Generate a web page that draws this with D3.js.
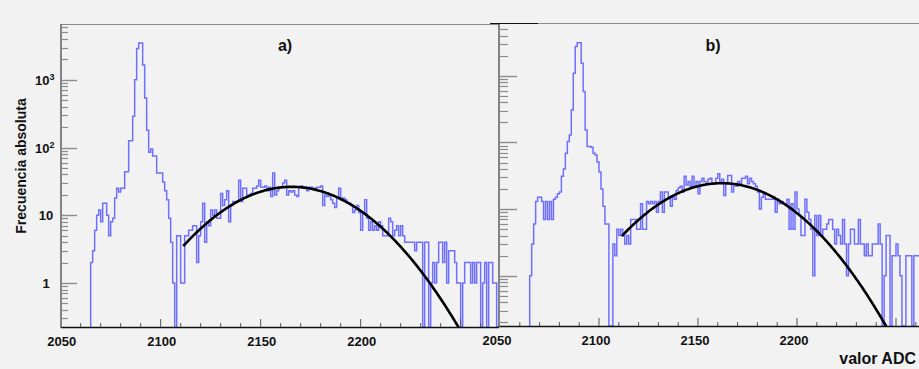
<!DOCTYPE html>
<html lang="en">
<head>
<meta charset="utf-8">
<title>Espectro ADC</title>
<script src="https://cdn.jsdelivr.net/npm/d3@7"></script>
<style>
	body { margin: 0; background: #f2f2f2; }
	svg { display: block; font-family: "Liberation Sans", Arial, sans-serif; }
</style>
</head>
<body>
<script>
// one bin = 1 ADC unit, counts start at firstBin
var firstBinA = 2065;
var countsA = [2, 3, 6, 10, 12, 8, 15, 15, 10, 5,
	8, 9, 18, 25, 22, 25, 25, 44, 44, 126,
	126, 290, 1000, 2900, 3500, 3500, 1650, 540, 180, 85,
	95, 75, 75, 42, 42, 42, 31, 23, 17, 9,
	4, 1, 0, 5, 5, 1, 1, 5, 5, 6,
	6, 7, 7, 2, 5, 8, 15, 4, 8, 7,
	12, 10, 12, 9, 9, 21, 14, 17, 23, 8,
	14, 16, 16, 16, 33, 16, 25, 25, 20, 20,
	21, 25, 25, 27, 33, 26, 26, 27, 23, 26,
	19, 42, 20, 23, 26, 26, 30, 33, 20, 23,
	22, 23, 20, 19, 26, 27, 25, 26, 23, 26,
	26, 25, 25, 26, 26, 27, 14, 20, 19, 20,
	17, 15, 13, 18, 25, 17, 18, 17, 15, 15,
	14, 11, 12, 14, 11, 6, 11, 17, 9, 6,
	8, 6, 7, 6, 8, 7, 5, 5, 5, 9,
	8, 5, 6, 7, 5, 7, 5, 4, 4, 4,
	4, 4, 3, 4, 4, 4, 0, 4, 4, 0,
	1, 2, 1, 2, 4, 4, 2, 4, 1, 3,
	3, 3, 2, 1, 1, 0, 1, 2, 2, 2,
	1, 2, 1, 2, 2, 0, 1, 2, 0, 2,
	2, 1, 1, 0];

var firstBinB = 2065;
var countsB = [1, 3, 6, 13, 15, 15, 13, 7, 13, 7,
	13, 7, 14, 15, 17, 18, 31, 40, 69, 103,
	130, 307, 1090, 2750, 3150, 3150, 1550, 580, 154, 87,
	87, 85, 69, 65, 51, 36, 20, 11, 6, 6,
	0, 0, 3, 2, 5, 4, 5, 4, 3, 4,
	3, 7, 7, 7, 5, 5, 12, 5, 5, 13,
	12, 13, 12, 13, 9, 13, 18, 9, 18, 18,
	15, 11, 15, 14, 19, 21, 22, 18, 31, 23,
	26, 22, 31, 22, 26, 17, 26, 29, 26, 24,
	28, 29, 24, 24, 29, 34, 26, 28, 16, 24,
	32, 32, 18, 24, 22, 26, 24, 29, 29, 31,
	24, 29, 26, 24, 22, 18, 10, 15, 17, 14,
	14, 14, 14, 15, 9, 14, 12, 13, 12, 12,
	14, 5, 12, 5, 18, 10, 8, 4, 4, 14,
	9, 7, 5, 1, 8, 4, 8, 4, 5, 5,
	6, 7, 7, 5, 3, 5, 4, 3, 7, 3,
	1, 3, 5, 5, 3, 3, 7, 3, 3, 2,
	3, 2, 2, 3, 3, 3, 6, 3, 0, 1,
	4, 4, 0, 2, 2, 3, 2, 1, 0, 0,
	2, 2, 2, 0, 2, 2, 2, 0];

// gaussian fits [panel a, panel b]
var fitAmp = [26.3, 24.5];
var fitMean = [2165.5, 2162.0];
var fitSigma = [27.0, 26.4];
var fitStart = [2111.3, 2111.5];

var xTickLabels = [2050, 2100, 2150, 2200];
var yTickValues = [1, 10, 100, 1000];
var yTickExp = [0, 1, 2, 3];
var panelNames = ["a)", "b)"];

var w = 919;
var h = 369;

var svg = d3.select("body")
	.append("svg")
	.attr("width", w)
	.attr("height", h);

var defs = svg.append("defs");

var panels = [
	{ name: panelNames[0], first: firstBinA, counts: countsA, fit: 0,
	  xr: [60.67, 500.67], top: 25, bottom: 327, ymin: 0.224, ymax: 6450,
	  clipL: 61, clipR: 499, major: 16, minor: 7, nameX: 285, yLabels: true },
	{ name: panelNames[1], first: firstBinB, counts: countsB, fit: 1,
	  xr: [500, 935.6], top: 24, bottom: 326, ymin: 0.176, ymax: 6000,
	  clipL: 499, clipR: 919, major: 18, minor: 9, nameX: 713, yLabels: false }
];

panels.forEach(function(p, k) {
	var x = d3.scaleLinear().domain([2050, 2270]).range(p.xr);
	var y = d3.scaleLog().domain([p.ymin, p.ymax]).range([p.bottom, p.top]);
	var g = svg.append("g");

	g.append("rect")
		.attr("x", p.clipL).attr("y", p.top)
		.attr("width", p.clipR - p.clipL).attr("height", p.bottom - p.top)
		.attr("fill", "#f2f2f2");

	defs.append("clipPath").attr("id", "clip" + k)
		.append("rect")
		.attr("x", p.clipL).attr("y", p.top)
		.attr("width", p.clipR - p.clipL).attr("height", p.bottom - p.top);

	// histogram outline
	var pts = [[p.first, 0]];
	p.counts.forEach(function(c, i) { pts.push([p.first + i, c]); });
	pts.push([p.first + p.counts.length, p.counts[p.counts.length - 1]]);

	var step = d3.line()
		.x(function(d) { return x(d[0]); })
		.y(function(d) { return d[1] > 0 ? y(d[1]) : p.bottom; })
		.curve(d3.curveStepAfter);

	g.append("path")
		.datum(pts)
		.attr("clip-path", "url(#clip" + k + ")")
		.attr("d", step)
		.attr("fill", "none")
		.attr("stroke", "#7070ff")
		.attr("stroke-width", 1.5);

	// fit
	var fitPts = d3.range(fitStart[p.fit], 2270, 0.5).map(function(v) {
		var z = (v - fitMean[p.fit]) / fitSigma[p.fit];
		return [v, fitAmp[p.fit] * Math.exp(-0.5 * z * z)];
	});
	g.append("path")
		.datum(fitPts)
		.attr("clip-path", "url(#clip" + k + ")")
		.attr("d", d3.line()
			.x(function(d) { return x(d[0]); })
			.y(function(d) { return y(Math.max(d[1], p.ymin / 3)); }))
		.attr("fill", "none")
		.attr("stroke", "#000")
		.attr("stroke-width", 2.6);

	// frame lines
	g.append("line")
		.attr("x1", p.clipL).attr("x2", p.clipR)
		.attr("y1", p.top - 0.5).attr("y2", p.top - 0.5)
		.attr("stroke", "#8a8a8a").attr("stroke-width", 1.2);
	g.append("line")
		.attr("x1", p.clipL).attr("x2", p.clipR)
		.attr("y1", p.bottom + 0.5).attr("y2", p.bottom + 0.5)
		.attr("stroke", "#111").attr("stroke-width", 1.4);
	g.append("line")
		.attr("x1", p.clipL).attr("x2", p.clipL)
		.attr("y1", p.top - 1).attr("y2", p.bottom + 1)
		.attr("stroke", "#555").attr("stroke-width", 1.4);

	// y ticks
	var minorY = [];
	[-1, 0, 1, 2, 3].forEach(function(e) {
		for (var m = 2; m <= 9; m++) {
			var v = m * Math.pow(10, e);
			if (v > p.ymin && v < p.ymax) minorY.push(v);
		}
	});
	g.selectAll("line.ymin")
		.data(minorY)
		.enter()
		.append("line")
		.attr("x1", p.clipL).attr("x2", p.clipL + p.minor)
		.attr("y1", function(d) { return Math.round(y(d)) + 0.5; })
		.attr("y2", function(d) { return Math.round(y(d)) + 0.5; })
		.attr("stroke", "#8c8c8c").attr("stroke-width", 1.2);
	g.selectAll("line.ymaj")
		.data(yTickValues)
		.enter()
		.append("line")
		.attr("x1", p.clipL).attr("x2", p.clipL + p.major)
		.attr("y1", function(d) { return Math.round(y(d)) + 0.5; })
		.attr("y2", function(d) { return Math.round(y(d)) + 0.5; })
		.attr("stroke", "#8c8c8c").attr("stroke-width", 1.4);

	// x ticks
	var xMinor = d3.range(2060, 2270, 10).filter(function(d) { return d % 50 !== 0; });
	g.selectAll("line.xmin")
		.data(xMinor)
		.enter()
		.append("line")
		.attr("x1", function(d) { return x(d); }).attr("x2", function(d) { return x(d); })
		.attr("y1", p.bottom).attr("y2", p.bottom - 4)
		.attr("stroke", "#555").attr("stroke-width", 1);
	g.selectAll("line.xmaj")
		.data([2100, 2150, 2200, 2250])
		.enter()
		.append("line")
		.attr("x1", function(d) { return x(d); }).attr("x2", function(d) { return x(d); })
		.attr("y1", p.bottom).attr("y2", p.bottom - 8)
		.attr("stroke", "#555").attr("stroke-width", 1);

	g.selectAll("text.xl")
		.data(xTickLabels)
		.enter()
		.append("text")
		.text(function(d) { return d; })
		.attr("x", function(d) { return x(d) + (k === 1 ? -3 : 1); })
		.attr("y", p.bottom + 19)
		.attr("text-anchor", "middle")
		.attr("font-size", "13px")
		.attr("font-weight", "bold")
		.attr("fill", "#111");

	if (p.yLabels) {
		yTickValues.forEach(function(v, i) {
			var t = g.append("text")
				.attr("y", y(v) + 5)
				.attr("font-size", "13px")
				.attr("font-weight", "bold")
				.attr("fill", "#111");
			if (yTickExp[i] < 2) {
				t.attr("x", 46).attr("text-anchor", "middle").text(v);
			} else {
				t.attr("x", 35).attr("text-anchor", "start");
				t.append("tspan").text("10");
				t.append("tspan").attr("dy", -5).attr("font-size", "9px").text(yTickExp[i]);
			}
		});
	}

	g.append("text")
		.text(p.name)
		.attr("x", p.nameX)
		.attr("y", 51)
		.attr("text-anchor", "middle")
		.attr("font-size", "16px")
		.attr("font-weight", "bold")
		.attr("fill", "#111");
});

// short dark piece on top of panel b frame
svg.append("line")
	.attr("x1", 490).attr("x2", 538)
	.attr("y1", 23.5).attr("y2", 23.5)
	.attr("stroke", "#111").attr("stroke-width", 1.2);

svg.append("text")
	.text("Frecuencia absoluta")
	.attr("transform", "translate(26,166) rotate(-90)")
	.attr("text-anchor", "middle")
	.attr("font-size", "14px")
	.attr("font-weight", "bold")
	.attr("fill", "#111");

svg.append("text")
	.text("valor ADC")
	.attr("x", 916)
	.attr("y", 364)
	.attr("text-anchor", "end")
	.attr("font-size", "16px")
	.attr("font-weight", "bold")
	.attr("fill", "#111");
</script>
</body>
</html>
